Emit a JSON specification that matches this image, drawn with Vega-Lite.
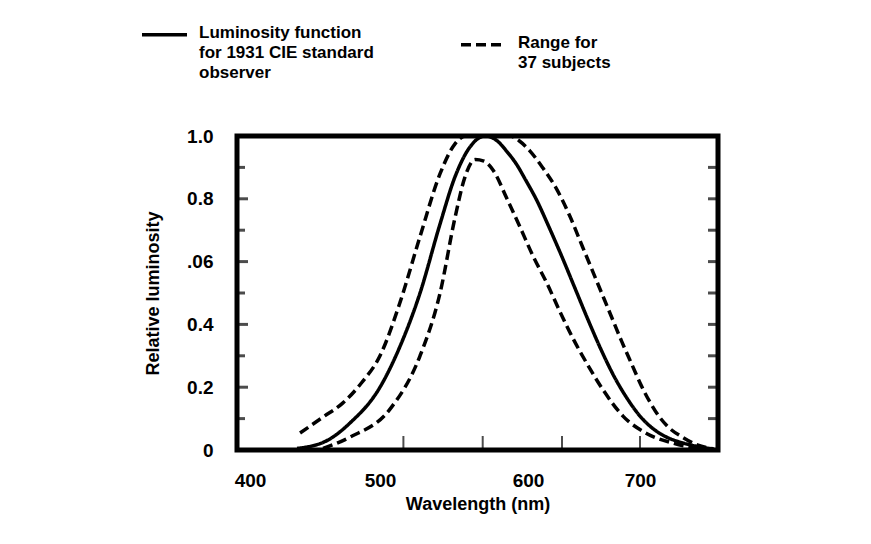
{
  "$schema": "https://vega.github.io/schema/vega-lite/v6.json",
  "width": 481,
  "height": 314,
  "autosize": "none",
  "padding": {"left": 237, "top": 136, "right": 153, "bottom": 94},
  "background": "white",
  "config": {
    "view": {"stroke": "black", "strokeWidth": 5},
    "font": "Liberation Sans",
    "axis": {"labelColor": "black", "titleColor": "black", "labelFont": "Liberation Sans", "titleFont": "Liberation Sans", "labelFontWeight": "bold", "titleFontWeight": "bold"},
    "legend": {"labelColor": "black", "labelFont": "Liberation Sans", "labelFontWeight": "bold"}
  },
  "datasets": {
    "curves": [
      {"series": "Luminosity function|for 1931 CIE standard|observer", "curve": "cie", "wavelength": 436.2, "luminosity": 0.005},
      {"series": "Luminosity function|for 1931 CIE standard|observer", "curve": "cie", "wavelength": 459.2, "luminosity": 0.03},
      {"series": "Luminosity function|for 1931 CIE standard|observer", "curve": "cie", "wavelength": 476.9, "luminosity": 0.086},
      {"series": "Luminosity function|for 1931 CIE standard|observer", "curve": "cie", "wavelength": 500.0, "luminosity": 0.2},
      {"series": "Luminosity function|for 1931 CIE standard|observer", "curve": "cie", "wavelength": 515.4, "luminosity": 0.33},
      {"series": "Luminosity function|for 1931 CIE standard|observer", "curve": "cie", "wavelength": 530.8, "luminosity": 0.5},
      {"series": "Luminosity function|for 1931 CIE standard|observer", "curve": "cie", "wavelength": 546.2, "luminosity": 0.72},
      {"series": "Luminosity function|for 1931 CIE standard|observer", "curve": "cie", "wavelength": 557.7, "luminosity": 0.87},
      {"series": "Luminosity function|for 1931 CIE standard|observer", "curve": "cie", "wavelength": 569.2, "luminosity": 0.965},
      {"series": "Luminosity function|for 1931 CIE standard|observer", "curve": "cie", "wavelength": 581.0, "luminosity": 1.0},
      {"series": "Luminosity function|for 1931 CIE standard|observer", "curve": "cie", "wavelength": 590.0, "luminosity": 0.985},
      {"series": "Luminosity function|for 1931 CIE standard|observer", "curve": "cie", "wavelength": 597.7, "luminosity": 0.95},
      {"series": "Luminosity function|for 1931 CIE standard|observer", "curve": "cie", "wavelength": 605.0, "luminosity": 0.91},
      {"series": "Luminosity function|for 1931 CIE standard|observer", "curve": "cie", "wavelength": 612.0, "luminosity": 0.86},
      {"series": "Luminosity function|for 1931 CIE standard|observer", "curve": "cie", "wavelength": 620.0, "luminosity": 0.8},
      {"series": "Luminosity function|for 1931 CIE standard|observer", "curve": "cie", "wavelength": 630.0, "luminosity": 0.71},
      {"series": "Luminosity function|for 1931 CIE standard|observer", "curve": "cie", "wavelength": 640.0, "luminosity": 0.615},
      {"series": "Luminosity function|for 1931 CIE standard|observer", "curve": "cie", "wavelength": 650.0, "luminosity": 0.515},
      {"series": "Luminosity function|for 1931 CIE standard|observer", "curve": "cie", "wavelength": 660.0, "luminosity": 0.415},
      {"series": "Luminosity function|for 1931 CIE standard|observer", "curve": "cie", "wavelength": 670.0, "luminosity": 0.32},
      {"series": "Luminosity function|for 1931 CIE standard|observer", "curve": "cie", "wavelength": 680.0, "luminosity": 0.235},
      {"series": "Luminosity function|for 1931 CIE standard|observer", "curve": "cie", "wavelength": 690.0, "luminosity": 0.165},
      {"series": "Luminosity function|for 1931 CIE standard|observer", "curve": "cie", "wavelength": 700.0, "luminosity": 0.108},
      {"series": "Luminosity function|for 1931 CIE standard|observer", "curve": "cie", "wavelength": 710.0, "luminosity": 0.068},
      {"series": "Luminosity function|for 1931 CIE standard|observer", "curve": "cie", "wavelength": 720.0, "luminosity": 0.042},
      {"series": "Luminosity function|for 1931 CIE standard|observer", "curve": "cie", "wavelength": 730.0, "luminosity": 0.026},
      {"series": "Luminosity function|for 1931 CIE standard|observer", "curve": "cie", "wavelength": 740.0, "luminosity": 0.015},
      {"series": "Luminosity function|for 1931 CIE standard|observer", "curve": "cie", "wavelength": 750.0, "luminosity": 0.007},
      {"series": "Luminosity function|for 1931 CIE standard|observer", "curve": "cie", "wavelength": 757.0, "luminosity": 0.003},

      {"series": "Range for|37 subjects", "curve": "upper", "wavelength": 438.5, "luminosity": 0.054},
      {"series": "Range for|37 subjects", "curve": "upper", "wavelength": 456.2, "luminosity": 0.105},
      {"series": "Range for|37 subjects", "curve": "upper", "wavelength": 471.5, "luminosity": 0.15},
      {"series": "Range for|37 subjects", "curve": "upper", "wavelength": 486.0, "luminosity": 0.215},
      {"series": "Range for|37 subjects", "curve": "upper", "wavelength": 500.0, "luminosity": 0.3},
      {"series": "Range for|37 subjects", "curve": "upper", "wavelength": 515.4, "luminosity": 0.47},
      {"series": "Range for|37 subjects", "curve": "upper", "wavelength": 530.8, "luminosity": 0.68},
      {"series": "Range for|37 subjects", "curve": "upper", "wavelength": 546.2, "luminosity": 0.88},
      {"series": "Range for|37 subjects", "curve": "upper", "wavelength": 557.7, "luminosity": 0.975},
      {"series": "Range for|37 subjects", "curve": "upper", "wavelength": 566.0, "luminosity": 1.0},
      {"series": "Range for|37 subjects", "curve": "upper", "wavelength": 600.0, "luminosity": 1.0},
      {"series": "Range for|37 subjects", "curve": "upper", "wavelength": 607.0, "luminosity": 0.985},
      {"series": "Range for|37 subjects", "curve": "upper", "wavelength": 615.4, "luminosity": 0.952},
      {"series": "Range for|37 subjects", "curve": "upper", "wavelength": 625.0, "luminosity": 0.9},
      {"series": "Range for|37 subjects", "curve": "upper", "wavelength": 636.0, "luminosity": 0.83},
      {"series": "Range for|37 subjects", "curve": "upper", "wavelength": 646.0, "luminosity": 0.745},
      {"series": "Range for|37 subjects", "curve": "upper", "wavelength": 656.0, "luminosity": 0.645},
      {"series": "Range for|37 subjects", "curve": "upper", "wavelength": 666.0, "luminosity": 0.545},
      {"series": "Range for|37 subjects", "curve": "upper", "wavelength": 676.0, "luminosity": 0.445},
      {"series": "Range for|37 subjects", "curve": "upper", "wavelength": 686.0, "luminosity": 0.345},
      {"series": "Range for|37 subjects", "curve": "upper", "wavelength": 694.0, "luminosity": 0.27},
      {"series": "Range for|37 subjects", "curve": "upper", "wavelength": 701.0, "luminosity": 0.205},
      {"series": "Range for|37 subjects", "curve": "upper", "wavelength": 708.0, "luminosity": 0.15},
      {"series": "Range for|37 subjects", "curve": "upper", "wavelength": 715.0, "luminosity": 0.105},
      {"series": "Range for|37 subjects", "curve": "upper", "wavelength": 722.0, "luminosity": 0.072},
      {"series": "Range for|37 subjects", "curve": "upper", "wavelength": 733.0, "luminosity": 0.04},
      {"series": "Range for|37 subjects", "curve": "upper", "wavelength": 744.0, "luminosity": 0.016},
      {"series": "Range for|37 subjects", "curve": "upper", "wavelength": 756.0, "luminosity": 0.004},

      {"series": "Range for|37 subjects", "curve": "lower", "wavelength": 456.2, "luminosity": 0.005},
      {"series": "Range for|37 subjects", "curve": "lower", "wavelength": 476.9, "luminosity": 0.041},
      {"series": "Range for|37 subjects", "curve": "lower", "wavelength": 507.7, "luminosity": 0.13},
      {"series": "Range for|37 subjects", "curve": "lower", "wavelength": 530.8, "luminosity": 0.3},
      {"series": "Range for|37 subjects", "curve": "lower", "wavelength": 546.2, "luminosity": 0.5},
      {"series": "Range for|37 subjects", "curve": "lower", "wavelength": 557.7, "luminosity": 0.74},
      {"series": "Range for|37 subjects", "curve": "lower", "wavelength": 565.4, "luminosity": 0.87},
      {"series": "Range for|37 subjects", "curve": "lower", "wavelength": 573.1, "luminosity": 0.925},
      {"series": "Range for|37 subjects", "curve": "lower", "wavelength": 580.0, "luminosity": 0.92},
      {"series": "Range for|37 subjects", "curve": "lower", "wavelength": 586.9, "luminosity": 0.892},
      {"series": "Range for|37 subjects", "curve": "lower", "wavelength": 597.7, "luminosity": 0.8},
      {"series": "Range for|37 subjects", "curve": "lower", "wavelength": 607.7, "luminosity": 0.71},
      {"series": "Range for|37 subjects", "curve": "lower", "wavelength": 617.7, "luminosity": 0.618},
      {"series": "Range for|37 subjects", "curve": "lower", "wavelength": 628.5, "luminosity": 0.53},
      {"series": "Range for|37 subjects", "curve": "lower", "wavelength": 638.5, "luminosity": 0.44},
      {"series": "Range for|37 subjects", "curve": "lower", "wavelength": 648.5, "luminosity": 0.355},
      {"series": "Range for|37 subjects", "curve": "lower", "wavelength": 659.2, "luminosity": 0.275},
      {"series": "Range for|37 subjects", "curve": "lower", "wavelength": 671.5, "luminosity": 0.192},
      {"series": "Range for|37 subjects", "curve": "lower", "wavelength": 686.9, "luminosity": 0.108},
      {"series": "Range for|37 subjects", "curve": "lower", "wavelength": 705.4, "luminosity": 0.052},
      {"series": "Range for|37 subjects", "curve": "lower", "wavelength": 725.4, "luminosity": 0.022},
      {"series": "Range for|37 subjects", "curve": "lower", "wavelength": 736.2, "luminosity": 0.011},
      {"series": "Range for|37 subjects", "curve": "lower", "wavelength": 755.4, "luminosity": 0.003}
    ],
    "ticks": [
      {"side": "left", "kind": "major", "value": 0.2},
      {"side": "left", "kind": "major", "value": 0.4},
      {"side": "left", "kind": "major", "value": 0.6},
      {"side": "left", "kind": "major", "value": 0.8},
      {"side": "left", "kind": "minor", "value": 0.1},
      {"side": "left", "kind": "minor", "value": 0.3},
      {"side": "left", "kind": "minor", "value": 0.5},
      {"side": "left", "kind": "minor", "value": 0.7},
      {"side": "left", "kind": "minor", "value": 0.9},
      {"side": "right", "kind": "minor", "value": 0.1},
      {"side": "right", "kind": "minor", "value": 0.2},
      {"side": "right", "kind": "minor", "value": 0.3},
      {"side": "right", "kind": "minor", "value": 0.4},
      {"side": "right", "kind": "minor", "value": 0.5},
      {"side": "right", "kind": "minor", "value": 0.6},
      {"side": "right", "kind": "minor", "value": 0.7},
      {"side": "right", "kind": "minor", "value": 0.8},
      {"side": "right", "kind": "minor", "value": 0.9},
      {"side": "bottom", "kind": "major", "value": 518},
      {"side": "bottom", "kind": "major", "value": 579},
      {"side": "bottom", "kind": "major", "value": 640},
      {"side": "bottom", "kind": "major", "value": 700}
    ]
  },
  "layer": [
    {
      "data": {"name": "curves"},
      "mark": {"type": "line", "interpolate": "monotone", "strokeWidth": 3.5, "color": "black", "clip": true},
      "encoding": {
        "x": {
          "field": "wavelength", "type": "quantitative",
          "scale": {"domain": [390, 760], "nice": false, "zero": false},
          "axis": {"values": [400, 500, 600, 700], "ticks": false, "domain": false, "grid": false,
                   "labelPadding": 21, "labelFontSize": 19,
                   "labelOffset": {"condition": {"test": "datum.value == 600", "value": 18}, "value": 0},
                   "title": "Wavelength (nm)", "titleFontSize": 18, "titlePadding": 5}
        },
        "y": {
          "field": "luminosity", "type": "quantitative",
          "scale": {"domain": [0, 1], "nice": false},
          "axis": {"values": [0, 0.2, 0.4, 0.6, 0.8, 1], "ticks": false, "domain": false, "grid": false,
                   "labelExpr": "datum.value == 0 ? '0' : datum.value == 0.6 ? '.06' : format(datum.value, '.1f')",
                   "labelPadding": 24, "labelFontSize": 19, "title": "Relative luminosity",
                   "titleFontSize": 18, "titlePadding": 24}
        },
        "detail": {"field": "curve"},
        "strokeDash": {
          "field": "series", "type": "nominal",
          "scale": {"domain": ["Luminosity function|for 1931 CIE standard|observer", "Range for|37 subjects"], "range": [[1, 0], [10, 5]]},
          "legend": {
            "title": null, "orient": "none", "legendX": -97, "legendY": -126, "direction": "horizontal",
            "symbolType": "stroke", "symbolSize": 2025, "symbolStrokeWidth": 3.5, "symbolStrokeColor": "black",
            "labelExpr": "split(datum.label, '|')", "labelFontSize": 17, "labelOffset": 10,
            "labelBaseline": "top", "columnPadding": 80, "labelLimit": 400,
            "encode": {"labels": {"update": {"lineHeight": {"value": 20}, "dy": {"value": -10}}}}
          }
        }
      }
    },
    {
      "data": {"name": "ticks"},
      "transform": [{"filter": "datum.side == 'left' && datum.kind == 'major'"}],
      "mark": {"type": "tick", "orient": "horizontal", "size": 22, "thickness": 3, "color": "black", "clip": true},
      "encoding": {"x": {"datum": 390, "type": "quantitative"}, "y": {"field": "value", "type": "quantitative"}}
    },
    {
      "data": {"name": "ticks"},
      "transform": [{"filter": "datum.side == 'left' && datum.kind == 'minor'"}],
      "mark": {"type": "tick", "orient": "horizontal", "size": 16, "thickness": 3, "color": "black", "clip": true},
      "encoding": {"x": {"datum": 390, "type": "quantitative"}, "y": {"field": "value", "type": "quantitative"}}
    },
    {
      "data": {"name": "ticks"},
      "transform": [{"filter": "datum.side == 'right'"}],
      "mark": {"type": "tick", "orient": "horizontal", "size": 20, "thickness": 3, "color": "black", "clip": true},
      "encoding": {"x": {"datum": 760, "type": "quantitative"}, "y": {"field": "value", "type": "quantitative"}}
    },
    {
      "data": {"name": "ticks"},
      "transform": [{"filter": "datum.side == 'bottom'"}],
      "mark": {"type": "tick", "orient": "vertical", "size": 28, "thickness": 2, "color": "black", "clip": true},
      "encoding": {"x": {"field": "value", "type": "quantitative"}, "y": {"datum": 0, "type": "quantitative"}}
    }
  ]
}
